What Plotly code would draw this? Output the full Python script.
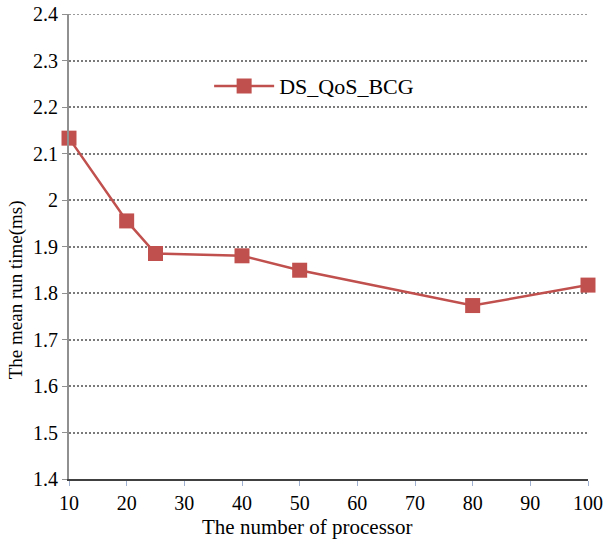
import plotly.graph_objects as go

processors = [10, 20, 25, 40, 50, 80, 100]
run_time = [2.133, 1.955, 1.885, 1.880, 1.849, 1.773, 1.817]
series_name = "DS_QoS_BCG"
x_ticks = [10, 20, 30, 40, 50, 60, 70, 80, 90, 100]
y_ticks = [1.4, 1.5, 1.6, 1.7, 1.8, 1.9, 2.0, 2.1, 2.2, 2.3, 2.4]
y_tick_text = ["1.4", "1.5", "1.6", "1.7", "1.8", "1.9", "2", "2.1", "2.2", "2.3", "2.4"]
x_title = "The number of processor"
y_title = "The mean run time(ms)"

color = "#C0504D"
font = "Liberation Serif"

fig = go.Figure()
fig.add_trace(go.Scatter(
    x=processors, y=run_time, name=series_name, mode="lines+markers",
    line=dict(color=color, width=2.5),
    marker=dict(symbol="square", size=15, color=color),
    cliponaxis=False,
))

fig.add_shape(type="line", xref="paper", yref="y", x0=0, x1=1, y0=2.4, y1=2.4,
              line=dict(color="#7a7a7a", width=1.5, dash="2px,2px"), layer="below")

fig.add_annotation(text=x_title, xref="paper", yref="paper", x=0.4586, y=-0.103,
                   xanchor="center", yanchor="middle", showarrow=False,
                   font=dict(family=font, size=21, color="black"))
fig.add_annotation(text=y_title, xref="paper", yref="paper", x=-0.102, y=0.406,
                   xanchor="center", yanchor="middle", showarrow=False, textangle=-90,
                   font=dict(family=font, size=19, color="black"))

fig.update_layout(
    width=603, height=544,
    margin=dict(l=69, r=15, t=14, b=65, autoexpand=False),
    paper_bgcolor="white", plot_bgcolor="white",
    font=dict(family=font, size=18, color="black"),
    showlegend=True,
    legend=dict(x=0.27, y=0.845, xanchor="left", yanchor="middle",
                bgcolor="rgba(0,0,0,0)", font=dict(family=font, size=22),
                itemwidth=60),
    xaxis=dict(
        range=[10, 100], tickvals=x_ticks, showgrid=False,
        showline=True, linecolor="#404040", linewidth=2,
        ticks="outside", ticklen=5, tickcolor="#9fb0d0",
        tickfont=dict(family=font, size=20, color="black"),
        zeroline=False, automargin=False,
    ),
    yaxis=dict(
        range=[1.4, 2.4], tickvals=y_ticks, ticktext=y_tick_text,
        showgrid=True, gridcolor="#7a7a7a", griddash="2px,2px", gridwidth=1.5,
        showline=True, linecolor="#909090", linewidth=2,
        ticks="outside", ticklen=5, tickcolor="#909090",
        tickfont=dict(family=font, size=20, color="black"),
        zeroline=False, automargin=False,
    ),
)

fig.write_html("out.html")
